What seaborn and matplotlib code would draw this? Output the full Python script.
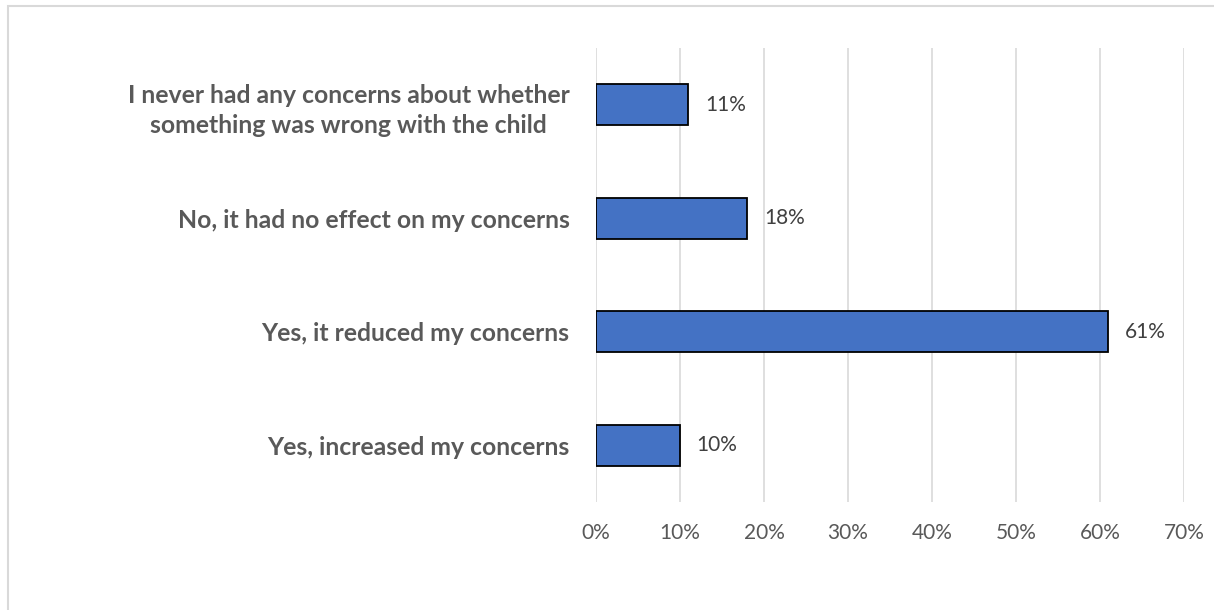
import matplotlib
matplotlib.use("Agg")
import matplotlib.pyplot as plt
from matplotlib.patches import Rectangle
from matplotlib.ticker import PercentFormatter
import seaborn as sns
import pandas as pd

# Survey responses and their shares
categories = [
    "I never had any concerns about whether\nsomething was wrong with the child",
    "No, it had no effect on my concerns",
    "Yes, it reduced my concerns",
    "Yes, increased my concerns",
]
shares = [0.11, 0.18, 0.61, 0.10]
tick_values = [0.0, 0.1, 0.2, 0.3, 0.4, 0.5, 0.6, 0.7]

df = pd.DataFrame({"response": categories, "share": shares})

sns.set_theme(style="white")
plt.rcParams["font.family"] = ["Lato", "DejaVu Sans"]

fig = plt.figure(figsize=(12.14, 6.10), dpi=100)
ax = fig.add_axes([596 / 1214, 1 - 502 / 610, (1184 - 596) / 1214, (502 - 48) / 610])

sns.barplot(data=df, x="share", y="response", orient="h", color="#4472C4",
            saturation=1, width=0.36, edgecolor="black", linewidth=1.3, ax=ax)

ax.set_xlim(0, 0.7)
ax.set_xticks(tick_values)
ax.xaxis.set_major_formatter(PercentFormatter(1.0, decimals=0))
ax.grid(axis="x", color="#D9D9D9", linewidth=1.2)
ax.set_axisbelow(True)
for s in ax.spines.values():
    s.set_visible(False)
ax.set_xlabel("")
ax.set_ylabel("")
ax.tick_params(axis="x", length=0, pad=15, labelsize=15, labelcolor="#595959")
ax.tick_params(axis="y", length=0, pad=19, labelsize=17.8, labelcolor="#595959")
for lbl in ax.get_yticklabels():
    lbl.set_fontweight("bold")
    lbl.set_multialignment("center")
    lbl.set_linespacing(1.4)

# Value labels at the end of each bar
for container in ax.containers:
    ax.bar_label(container, labels=[f"{v:.0%}" for v in shares],
                 padding=12, fontsize=15, color="#404040")

# Light frame around the chart area
fig.add_artist(Rectangle((8 / 1214, -0.05), 1.1, 1 - 6 / 610 + 0.05,
                         transform=fig.transFigure, fill=False,
                         edgecolor="#D9D9D9", linewidth=1.5))

fig.savefig("out.png", dpi=100)
